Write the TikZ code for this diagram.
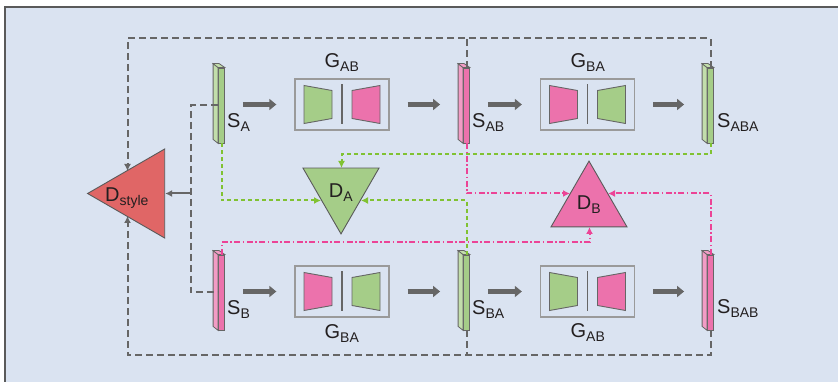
\documentclass[tikz,border=0pt]{standalone}
\usepackage{fontspec}
\setmainfont{Liberation Sans}
\usetikzlibrary{calc}
\usetikzlibrary{arrows.meta}
\usetikzlibrary{shapes.geometric}

\definecolor{bgblue}{HTML}{DAE3F1}
\definecolor{framegray}{HTML}{5A5A5A}
\definecolor{linegray}{HTML}{666666}
\definecolor{slabgreen}{HTML}{A5CD88}
\definecolor{sidegreen}{HTML}{C2DEAB}
\definecolor{slabpink}{HTML}{EC72AC}
\definecolor{sidepink}{HTML}{F29CC5}
\definecolor{dred}{HTML}{E06666}
\definecolor{dashgreen}{HTML}{80C232}
\definecolor{dashpink}{HTML}{EC4496}
\definecolor{boxgray}{HTML}{9A9A9A}
\definecolor{inkgray}{HTML}{231F20}

\tikzset{
  slab/.style={draw=linegray, line width=0.8pt, minimum width=6pt, minimum height=75pt, inner sep=0pt},
  genbox/.style={draw=boxgray, line width=1.3pt, minimum width=94pt, minimum height=51pt, inner sep=0pt},
  disc/.style={regular polygon, regular polygon sides=3, draw=framegray, line width=0.9pt, inner sep=0pt},
  bigarrow/.style={linegray, line width=5pt, -{Triangle[length=7pt,width=11pt]}, shorten <=18pt, shorten >=18pt},
  loopline/.style={draw=linegray, line width=2pt, dash pattern=on 7pt off 4pt},
  greenline/.style={draw=dashgreen, line width=2pt, dash pattern=on 4pt off 3pt},
  pinkline/.style={draw=dashpink, line width=2pt, dash pattern=on 6pt off 2.5pt on 1.5pt off 2.5pt},
  tip/.style={-{Latex[length=7pt,width=7pt]}},
  lbl/.style={font=\fontsize{20}{24}\selectfont, text=inkgray, inner sep=0pt},
}

% slab: name, x, y, colour (green/pink)
\newcommand{\drawslab}[4]{%
  \node[slab, fill=slab#4] (#1) at (#2,#3) {};
  \draw[linegray, line width=0.8pt, fill=side#4] (#1.north west) -- ++(-5,-4) -- ($(#1.south west)+(-5,-4)$) -- (#1.south west) -- cycle;
  \draw[linegray, line width=0.8pt, fill=side#4] (#1.north west) -- ++(-5,-4) -- ++(6,0) -- (#1.north east) -- cycle;
}

% generator: name, x, y, left colour, right colour
\newcommand{\drawgen}[5]{%
  \node[genbox] (#1) at (#2,#3) {};
  \draw[linegray, line width=0.9pt, fill=#4] ($(#1)+(-38,-19)$) -- ($(#1)+(-10,-14)$) -- ($(#1)+(-10,14)$) -- ($(#1)+(-38,19)$) -- cycle;
  \draw[linegray, line width=0.9pt, fill=#5] ($(#1)+(10,-14)$) -- ($(#1)+(38,-19)$) -- ($(#1)+(38,19)$) -- ($(#1)+(10,14)$) -- cycle;
  \draw[linegray, line width=1.1pt] ($(#1)+(0,-20)$) -- ($(#1)+(0,20)$);
}

\begin{document}
\begin{tikzpicture}[x=1pt,y=-1pt]
  \useasboundingbox (0,0) rectangle (839,382);
  \fill[bgblue] (4.7,6.7) rectangle (838,382);
  \draw[framegray, line width=2pt] (4.7,382) -- (4.7,6.7) -- (838,6.7);

  % slabs
  \drawslab{SA}{221.5}{105.5}{green}
  \drawslab{SAB}{466.5}{105.5}{pink}
  \drawslab{SABA}{710.5}{105.5}{green}
  \drawslab{SB}{221.5}{292.5}{pink}
  \drawslab{SBA}{466.5}{292.5}{green}
  \drawslab{SBAB}{710.5}{292.5}{pink}

  % generators
  \drawgen{gABt}{342}{104.5}{slabgreen}{slabpink}
  \drawgen{gBAt}{587.5}{104.5}{slabpink}{slabgreen}
  \drawgen{gBAb}{342}{291.5}{slabpink}{slabgreen}
  \drawgen{gABb}{587.5}{291.5}{slabgreen}{slabpink}

  % discriminators
  \node[disc, fill=dred, minimum size=102.8pt, shape border rotate=90] (Dstyle) at (139,193.5) {};
  \node[disc, fill=slabgreen, minimum size=87.8pt, shape border rotate=180] (DA) at (341,190) {};
  \node[disc, fill=slabpink, minimum size=87.8pt] (DB) at (589,205) {};

  % labels
  \node[lbl, anchor=base west] (tDstyle) at (105,202) {D\textsubscript{style}};
  \node[lbl, anchor=base] (tDA) at (341,198) {D\textsubscript{A}};
  \node[lbl, anchor=base] (tDB) at (589,210) {D\textsubscript{B}};
  \node[lbl, anchor=base west] (tSA) at (227,128) {S\textsubscript{A}};
  \node[lbl, anchor=base west] (tSAB) at (472,128) {S\textsubscript{AB}};
  \node[lbl, anchor=base west] (tSABA) at (717,128) {S\textsubscript{ABA}};
  \node[lbl, anchor=base west] (tSB) at (227,315) {S\textsubscript{B}};
  \node[lbl, anchor=base west] (tSBA) at (472,315) {S\textsubscript{BA}};
  \node[lbl, anchor=base west] (tSBAB) at (717,314) {S\textsubscript{BAB}};
  \node[lbl, anchor=base] (tGABt) at (342,68) {G\textsubscript{AB}};
  \node[lbl, anchor=base] (tGBAt) at (588,68) {G\textsubscript{BA}};
  \node[lbl, anchor=base] (tGBAb) at (342,339) {G\textsubscript{BA}};
  \node[lbl, anchor=base] (tGABb) at (588,338) {G\textsubscript{AB}};

  % main flow
  \draw[bigarrow] (SA.east |- gABt.west) -- (gABt.west);
  \draw[bigarrow, shorten >=23pt] (gABt.east) -- (gABt.east -| SAB.west);
  \draw[bigarrow] (SAB.east |- gBAt.west) -- (gBAt.west);
  \draw[bigarrow, shorten >=23pt] (gBAt.east) -- (gBAt.east -| SABA.west);
  \draw[bigarrow] (SB.east |- gBAb.west) -- (gBAb.west);
  \draw[bigarrow, shorten >=23pt] (gBAb.east) -- (gBAb.east -| SBA.west);
  \draw[bigarrow] (SBA.east |- gABb.west) -- (gABb.west);
  \draw[bigarrow, shorten >=23pt] (gABb.east) -- (gABb.east -| SBAB.west);

  % style loops
  \coordinate (topL) at (127.5,38.5);
  \coordinate (botL) at (127.5,355.5);
  \coordinate (dsTop) at (127.5,171);
  \coordinate (dsBot) at (127.5,216);
  \coordinate (jS) at (190.5,193.5);
  \draw[loopline, tip] (SABA.north) |- (topL) -- (dsTop);
  \draw[loopline] (SAB.north) -- (SAB.north |- topL);
  \draw[loopline, tip] (SBAB.south) |- (botL) -- (dsBot);
  \draw[loopline] (SBA.south) -- (SBA.south |- botL);
  \draw[loopline] (SA.west) -| (jS) |- (SB.west);
  \draw[linegray, line width=2pt, tip] (jS) -- (Dstyle);

  % D_A inputs
  \coordinate (daL) at (321,200.5);
  \coordinate (daR) at (361,200.5);
  \coordinate (daT) at (341.5,168);
  \coordinate (daRow) at (341.5,154.5);
  \draw[greenline, tip] (SA.south) |- (daL);
  \draw[greenline, tip] (SBA.north) |- (daR);
  \draw[greenline, tip] (SABA.south) |- (daRow) -- (daT);

  % D_B inputs
  \coordinate (dbL) at (570,193.5);
  \coordinate (dbR) at (608,193.5);
  \coordinate (dbB) at (589.5,227);
  \coordinate (dbRow) at (589.5,242.5);
  \draw[pinkline, tip] (SAB.south) |- (dbL);
  \draw[pinkline, tip] (SBAB.north) |- (dbR);
  \draw[pinkline, tip] (SB.north) |- (dbRow) -- (dbB);
\end{tikzpicture}
\end{document}
